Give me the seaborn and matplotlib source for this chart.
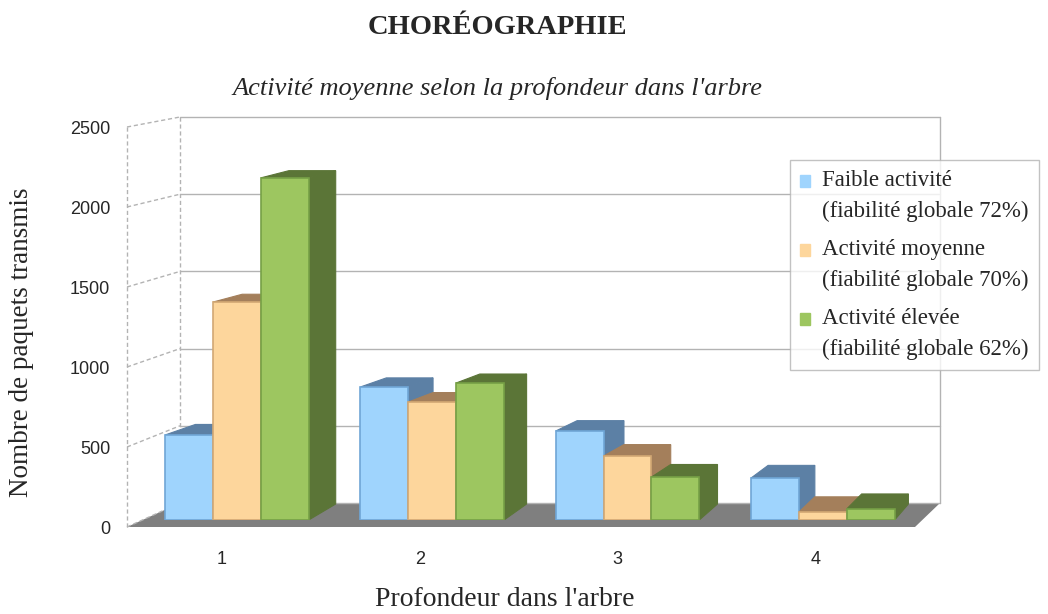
import matplotlib
matplotlib.use("Agg")
import matplotlib.pyplot as plt
import seaborn as sns
import pandas as pd
import numpy as np
from matplotlib.patches import Polygon, Patch

# data
depths = ["1", "2", "3", "4"]
series = [
    "Faible activité\n(fiabilité globale 72%)",
    "Activité moyenne\n(fiabilité globale 70%)",
    "Activité élevée\n(fiabilité globale 62%)",
]
faible = [537, 840, 562, 265]
moyenne = [1376, 745, 404, 50]
elevee = [2160, 865, 271, 70]
y_ticks = [0, 500, 1000, 1500, 2000, 2500]

front_colors = ["#9fd4fd", "#fdd69c", "#9dc660"]
edge_colors = ["#6fa6d6", "#d2a874", "#76a046"]
dark_colors = ["#5c80a5", "#a47f5b", "#5b7537"]

df = pd.DataFrame({
    "Profondeur": depths * 3,
    "Paquets": faible + moyenne + elevee,
    "Série": [s for s in series for _ in depths],
})

sns.set_style("white")
plt.rcParams["font.family"] = ["Liberation Serif", "DejaVu Serif"]

W, H = 1048, 614
fig = plt.figure(figsize=(W / 100, H / 100), dpi=100)


def frac(left, top, right, bottom):
    # pixel box (y down) -> figure fraction rect
    return [left / W, (H - bottom) / H, (right - left) / W, (bottom - top) / H]


# background "3D" furniture, drawn in pixel coordinates
bg = fig.add_axes([0, 0, 1, 1], zorder=0)
bg.set_xlim(0, W)
bg.set_ylim(H, 0)
bg.set_axis_off()

grid_c = "#b3b3b3"
back_l, back_r, back_top, back_bot = 180, 940, 117, 503
front_l, front_r, front_top, front_bot = 127, 915, 127, 527
for v in y_ticks:
    yb = back_bot - v * (back_bot - back_top) / 2500
    yf = front_bot - v * (front_bot - front_top) / 2500
    bg.plot([back_l, back_r], [yb, yb], color=grid_c, lw=1)
    bg.plot([front_l, back_l], [yf, yb], color=grid_c, lw=1, ls=(0, (3, 2)))
bg.plot([back_r, back_r], [back_top, back_bot], color=grid_c, lw=1)
bg.plot([back_l, back_l], [back_top, back_bot], color=grid_c, lw=1, ls=(0, (3, 2)))
bg.plot([front_l, front_l], [front_top, front_bot], color=grid_c, lw=1, ls=(0, (3, 2)))
bg.add_patch(Polygon([(front_l, front_bot), (front_r, front_bot), (back_r, back_bot),
                      (back_l, back_bot)], closed=True, color="#7f7f7f", lw=0))

# bars, drawn on the plane where they stand
ax = fig.add_axes(frac(127, 124, 940, 520), zorder=1)
sns.barplot(data=df, x="Profondeur", y="Paquets", hue="Série", palette=front_colors,
            width=0.735, saturation=1, legend=False, ax=ax)
ax.set_xlim(-0.563, 3.6)
ax.set_ylim(0, 2500)
ax.set_axis_off()


def to_px(x, y):
    d = ax.transData.transform((x, y))
    return d[0], H - d[1]


def to_data(xp, yp):
    return ax.transData.inverted().transform((xp, H - yp))


def recede(xp, yp):
    dx = 27 - 11 * (xp - 308) / 489
    dy = 7 + 9 * np.exp(-(520 - yp) / 90)
    return xp + dx, yp - dy


for h, cont in enumerate(ax.containers):
    for g, bar in enumerate(cont):
        z = 2 + (g * 3 + h) * 0.1
        x0, w, hgt = bar.get_x(), bar.get_width(), bar.get_height()
        xl, yt = to_px(x0, hgt)
        xr, yb = to_px(x0 + w, 0)
        side = [(xr, yb), recede(xr, yb), recede(xr, yt), (xr, yt)]
        top = [(xl, yt), (xr, yt), recede(xr, yt), recede(xl, yt)]
        for poly in (side, top):
            ax.add_patch(Polygon([to_data(*p) for p in poly], closed=True,
                                 facecolor=dark_colors[h], edgecolor=dark_colors[h],
                                 lw=0.8, zorder=z))
        bar.set_edgecolor(edge_colors[h])
        bar.set_linewidth(1.2)
        bar.set_zorder(z + 0.05)

# front plane: tick labels and axis titles
fa = fig.add_axes(frac(front_l, front_top, front_r, front_bot), zorder=2)
fa.patch.set_alpha(0)
fa.set_xlim(-0.4805, 3.505)
fa.set_ylim(0, 2500)
fa.set_xticks(range(len(depths)), depths, family="Liberation Sans", fontsize=13)
fa.set_yticks(y_ticks, [str(v) for v in y_ticks], family="Liberation Sans", fontsize=13)
fa.tick_params(axis="x", length=0, pad=17)
fa.tick_params(axis="y", length=0, pad=12)
for s in fa.spines.values():
    s.set_visible(False)
fw, fh = front_r - front_l, front_bot - front_top
fa.set_xlabel("Profondeur dans l'arbre", fontsize=20)
fa.xaxis.set_label_coords((505 - front_l) / fw, -(587 - front_bot) / fh)
fa.set_ylabel("Nombre de paquets transmis", fontsize=19.5)
fa.yaxis.set_label_coords((34 - front_l) / fw, (front_bot - 342) / fh)

fig.text(497 / W, 1 - 27 / H, "CHORÉOGRAPHIE", ha="center", va="center",
         fontsize=20.5, fontweight="bold")
fig.text(497 / W, 1 - 88 / H, "Activité moyenne selon la profondeur dans l'arbre",
         ha="center", va="center", fontsize=19, style="italic")

handles = [Patch(facecolor=c, edgecolor=c) for c in front_colors]
leg = fig.legend(handles, series, loc="upper left",
                 bbox_to_anchor=(790 / W, 1 - 160 / H), borderaxespad=0, fontsize=16.5,
                 frameon=True, fancybox=False, edgecolor="#b3b3b3",
                 handlelength=0.44, handleheight=0.44, handletextpad=0.52,
                 labelspacing=0.75, borderpad=0.44)
leg.get_frame().set_linewidth(1)
for t in leg.get_texts():
    t.set_linespacing(1.6)
# legend squares sit beside the first line of each label
for p in leg.legend_handles:
    p.set_y(p.get_y() + 11)

fig.savefig("out.png", dpi=100, facecolor="white")
